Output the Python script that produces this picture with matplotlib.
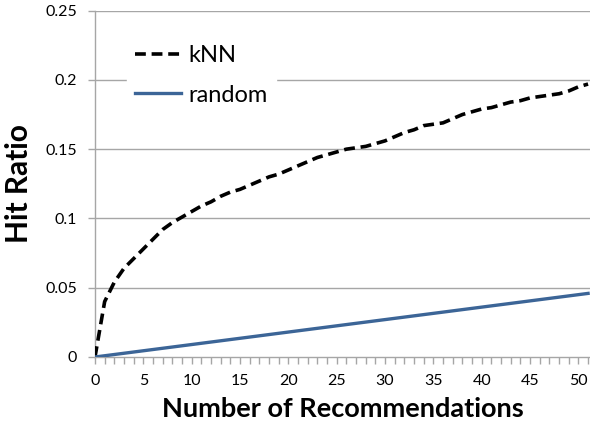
import matplotlib.pyplot as plt
import numpy as np

# number of recommendations
recs = list(range(0, 52))

# hit ratio
knn = [0.0, 0.040, 0.054, 0.064, 0.071, 0.078, 0.085, 0.092, 0.097, 0.101,
       0.105, 0.109, 0.112, 0.116, 0.119, 0.121, 0.124, 0.127, 0.130, 0.132,
       0.135, 0.138, 0.141, 0.144, 0.146, 0.148, 0.150, 0.151, 0.152, 0.154,
       0.156, 0.159, 0.162, 0.164, 0.167, 0.168, 0.169, 0.172, 0.175, 0.177,
       0.179, 0.180, 0.182, 0.184, 0.185, 0.187, 0.188, 0.189, 0.190, 0.192,
       0.195, 0.197]
random_x = [0, 10, 20, 30, 40, 51]
random_y = [0.0, 0.009, 0.018, 0.027, 0.036, 0.0459]

x_ticks = [0, 5, 10, 15, 20, 25, 30, 35, 40, 45, 50]
y_ticks = [0, 0.05, 0.1, 0.15, 0.2, 0.25]
y_tick_labels = ['0', '0.05', '0.1', '0.15', '0.2', '0.25']

plt.rcParams['font.family'] = ['Lato', 'DejaVu Sans']

fig = plt.figure(figsize=(5.9, 4.25), dpi=100, facecolor='white')
ax = fig.add_axes([0.161, 0.16, 0.839, 0.815])

grid_color = '#A6A6A6'
for y in y_ticks[1:]:
    ax.axhline(y, color=grid_color, lw=1.0, zorder=1)

ax.plot(recs, knn, color='black', lw=2.6, linestyle=(0, (3, 1.6)),
        label='kNN', zorder=3)
ax.plot(random_x, random_y, color='#3C6597', lw=2.4, label='random', zorder=3)

ax.set_xlim(0, 51.2)
ax.set_ylim(0, 0.25)
ax.set_xticks(x_ticks)
ax.set_xticks(recs, minor=True)
ax.set_yticks(y_ticks)
ax.set_yticklabels(y_tick_labels)

for side in ['top', 'right']:
    ax.spines[side].set_visible(False)
for side in ['left', 'bottom']:
    ax.spines[side].set_color(grid_color)
    ax.spines[side].set_linewidth(1.0)

ax.tick_params(axis='both', which='both', color=grid_color, length=5,
               width=1.0, direction='out', labelsize=11.5)
ax.tick_params(axis='x', pad=7)
ax.tick_params(axis='y', pad=8)

ax.set_xlabel('Number of Recommendations', fontsize=19.5, fontweight='bold',
              labelpad=7)
ax.set_ylabel('Hit Ratio', fontsize=21.5, fontweight='bold', labelpad=9)

leg = ax.legend(loc='upper left', bbox_to_anchor=(0.065, 0.925), frameon=True,
                fontsize=17, handlelength=1.95, handletextpad=0.3,
                labelspacing=0.8, borderpad=0.35, borderaxespad=0)
leg.get_frame().set_facecolor('white')
leg.get_frame().set_edgecolor('white')
leg.get_frame().set_alpha(1)
leg.get_frame().set_boxstyle('square', pad=0)
leg.set_zorder(5)

fig.savefig('out.png', dpi=100)
